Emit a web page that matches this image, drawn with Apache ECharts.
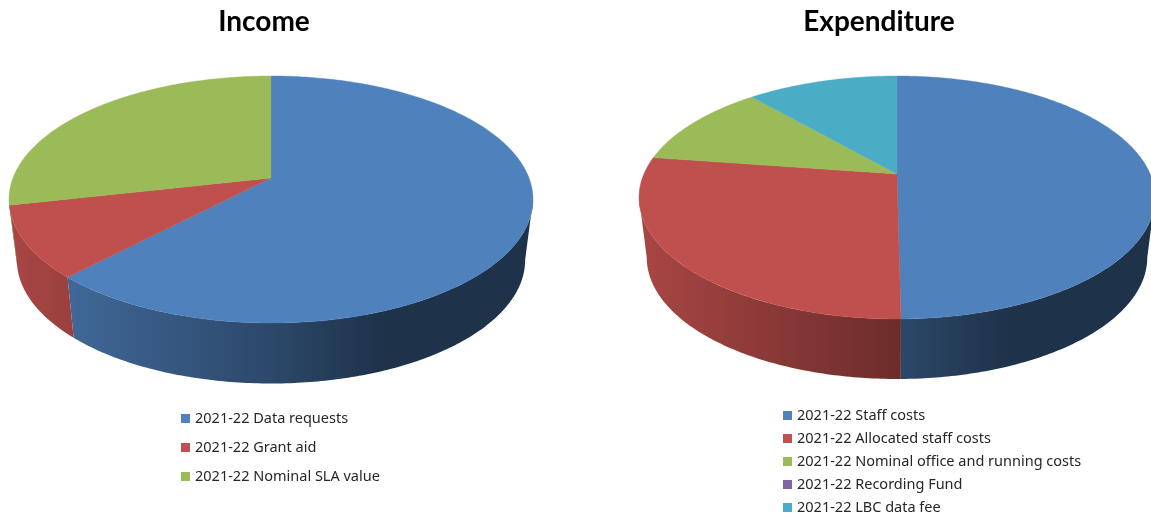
<!DOCTYPE html>
<html>
<head>
<meta charset="utf-8">
<style>html,body{margin:0;padding:0;background:#fff}#c{width:1151px;height:516px}</style>
<script src="https://cdn.jsdelivr.net/npm/echarts@6/dist/echarts.min.js"></script>
</head>
<body>
<div id="c"></div>
<script>
var incomeNames = ['2021-22 Data requests', '2021-22 Grant aid', '2021-22 Nominal SLA value'];
var incomeValues = [62.1, 9.4, 28.5];
var expenditureNames = ['2021-22 Staff costs', '2021-22 Allocated staff costs', '2021-22 Nominal office and running costs', '2021-22 Recording Fund', '2021-22 LBC data fee'];
var expenditureValues = [49.8, 27.5, 11.3, 0, 11.4];
var colors = ['#4f81bd', '#c0504d', '#9bbb59', '#8064a2', '#4bacc6'];
var shadeStops = [[0, 0.88], [0.12, 0.8], [0.5, 0.56], [0.72, 0.385], [1, 0.385]];

var incomeGeo = {cx: 271, apexY: 178, back: 102, front: 145, rx: 262, drop: 60.5, sx: 0.97, sy: 1};
var expenditureGeo = {cx: 897, apexY: 174, back: 98, front: 145, rx: 258, drop: 60, sx: 0.97, sy: 1};

function shade(hex, f) {
  var n = parseInt(hex.slice(1), 16);
  return 'rgb(' + Math.round((n >> 16) * f) + ',' + Math.round(((n >> 8) & 255) * f) + ',' + Math.round((n & 255) * f) + ')';
}

function projector(g) {
  var k = (g.front - g.back) / (g.front + g.back);
  var b = g.front * (1 - k);
  var c = g.rx * Math.sqrt(1 - k * k);
  var midY = (g.apexY - g.back + g.apexY + g.front) / 2;
  return {
    k: k,
    top: function (t) {
      var u = Math.sin(t), v = -Math.cos(t), d = 1 - k * v;
      return [g.cx + c * u / d, g.apexY + b * v / d];
    },
    bottom: function (t) {
      var p = this.top(t);
      return [g.cx + (p[0] - g.cx) * g.sx, midY + (p[1] - midY) * g.sy + g.drop];
    }
  };
}

function arc(fn, a, b) {
  var pts = [], n = Math.max(2, Math.ceil(Math.abs(b - a) / (Math.PI / 240)));
  for (var i = 0; i <= n; i++) pts.push(fn(a + (b - a) * i / n));
  return pts;
}

function sliceSeries(names, values, geo) {
  var total = values.reduce(function (s, v) { return s + v; }, 0);
  var proj = projector(geo);
  var visA = Math.PI / 2 + Math.asin(proj.k);
  var visB = 2 * Math.PI - visA;
  return names.map(function (name, i) {
    var color = colors[i];
    var before = values.slice(0, i).reduce(function (s, v) { return s + v; }, 0);
    return {
      type: 'custom',
      name: name,
      coordinateSystem: 'none',
      silent: true,
      animation: false,
      itemStyle: {color: color},
      data: [[values[i]]],
      renderItem: function (params, api) {
        var val = api.value(0);
        if (!val) return {type: 'group', children: []};
        var a0 = before / total * 2 * Math.PI;
        var a1 = (before + val) / total * 2 * Math.PI;
        var children = [];
        var wa = Math.max(a0, visA), wb = Math.min(a1, visB);
        if (wb > wa) {
          var x0 = geo.cx - geo.rx, w = 2 * geo.rx;
          var grad = new echarts.graphic.LinearGradient(x0, 0, x0 + w, 0,
            shadeStops.map(function (s) { return {offset: s[0], color: shade(color, s[1])}; }), true);
          var fn = proj.top.bind(proj), fb = proj.bottom.bind(proj);
          children.push({
            type: 'polygon', z2: 1,
            shape: {points: arc(fn, wa, wb).concat(arc(fb, wb, wa))},
            style: {fill: grad}
          });
        }
        children.push({
          type: 'polygon', z2: 2,
          shape: {points: [[geo.cx, geo.apexY]].concat(arc(proj.top.bind(proj), a0, a1))},
          style: {fill: color, stroke: color, lineWidth: 0.4}
        });
        return {type: 'group', children: children};
      }
    };
  });
}

var legendText = {fontFamily: 'Noto Sans', fontSize: 14.5, color: '#262626'};
var titleText = {fontFamily: 'Lato', fontWeight: 'bold', fontSize: 28, color: '#000'};
var chart = echarts.init(document.getElementById('c'), null, {renderer: 'canvas'});
chart.setOption({
  backgroundColor: '#fff',
  animation: false,
  title: [
    {text: 'Income', left: 259, top: 3, textAlign: 'center', textStyle: titleText},
    {text: 'Expenditure', left: 874, top: 3, textAlign: 'center', textStyle: titleText}
  ],
  legend: [
    {data: incomeNames, orient: 'vertical', left: 176, top: 406, height: 100, itemWidth: 9, itemHeight: 9, itemGap: 14, icon: 'rect', selectedMode: false, textStyle: legendText},
    {data: expenditureNames, orient: 'vertical', left: 778, top: 403, height: 112, itemWidth: 9, itemHeight: 9, itemGap: 8, icon: 'rect', selectedMode: false, textStyle: legendText}
  ],
  series: sliceSeries(incomeNames, incomeValues, incomeGeo).concat(sliceSeries(expenditureNames, expenditureValues, expenditureGeo))
});
</script>
</body>
</html>
